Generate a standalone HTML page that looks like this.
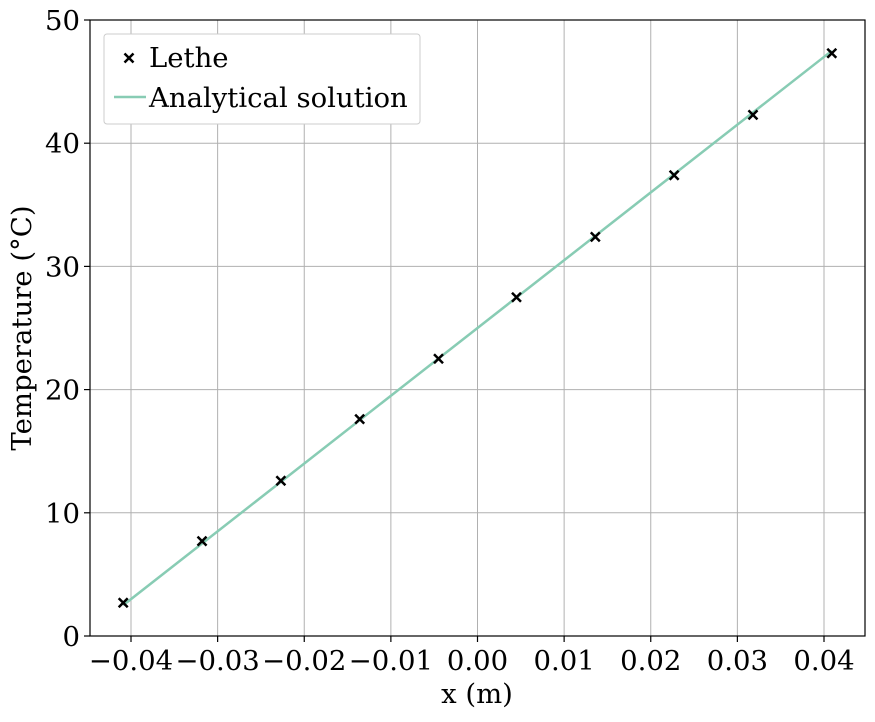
<!DOCTYPE html>
<html><head><meta charset="utf-8"><style>
body{margin:0;background:#fff}
svg text{font-family:"DejaVu Serif","Liberation Serif",serif;fill:#000}
</style></head><body>
<svg id="chart" width="875" height="717"></svg>
<script>
const xTicks=[-0.04,-0.03,-0.02,-0.01,0.00,0.01,0.02,0.03,0.04];
const xTickLabels=["\u22120.04","\u22120.03","\u22120.02","\u22120.01","0.00","0.01","0.02","0.03","0.04"];
const yTicks=[0,10,20,30,40,50];
const letheX=[-0.0409,-0.0318,-0.0227,-0.0136,-0.0045,0.0045,0.0136,0.0227,0.0318,0.0409];
const letheT=[2.7,7.7,12.6,17.6,22.5,27.5,32.4,37.4,42.3,47.3];
const analyticX=[-0.0409,0.0409];
const analyticT=[2.5,47.5];
const L=90,R=865,T=20,B=636;
const sx=v=>477.5+v*8662.5;
const sy=v=>B-(v/50)*(B-T);
const svg=document.getElementById('chart');
const NS='http://www.w3.org/2000/svg';
function mk(tag,attrs,parent){const e=document.createElementNS(NS,tag);for(const k in attrs)e.setAttribute(k,attrs[k]);(parent||svg).appendChild(e);return e;}
xTicks.forEach((v,i)=>{
 const g=mk('line',{x1:sx(v),x2:sx(v),y1:T,y2:B,stroke:'#b0b0b0','stroke-width':1});
 
 
 mk('line',{x1:sx(v),x2:sx(v),y1:B,y2:B+6,stroke:'#000','stroke-width':1.2});
 const t=mk('text',{x:sx(v),y:B+34,'text-anchor':'middle','font-size':27.5});
 t.textContent=xTickLabels[i];
 
 
});
yTicks.forEach(v=>{
 const g=mk('line',{x1:L,x2:R,y1:sy(v),y2:sy(v),stroke:'#b0b0b0','stroke-width':1});
 
 
 mk('line',{x1:L-6,x2:L,y1:sy(v),y2:sy(v),stroke:'#000','stroke-width':1.2});
 const t=mk('text',{x:L-10,y:sy(v)+10,'text-anchor':'end','font-size':27.5});
 t.textContent=v;
 
 
});
const fr=mk('rect',{x:L,y:T,width:R-L,height:B-T,fill:'none',stroke:'#000','stroke-width':1.2});


const ln=mk('polyline',{points:analyticX.map((x,i)=>sx(x)+','+sy(analyticT[i])).join(' '),fill:'none',stroke:'#88ccb4','stroke-width':2.5});


letheX.forEach((x,i)=>{
 const cx=sx(x),cy=sy(letheT[i]),d=4.5;
 const p=mk('path',{d:`M${cx-d},${cy-d}L${cx+d},${cy+d}M${cx-d},${cy+d}L${cx+d},${cy-d}`,stroke:'#000','stroke-width':2.5});
 
 
});
const xl=mk('text',{x:477,y:703,'text-anchor':'middle','font-size':27.5});xl.textContent='x (m)';


const yl=mk('text',{x:31,y:328,'text-anchor':'middle','font-size':27.5,transform:'rotate(-90 31 328)'});yl.textContent='Temperature (°C)';


const lg=mk('g',{});


mk('rect',{x:104,y:34,width:316,height:90,fill:'#fff',stroke:'#ccc','stroke-width':1,rx:3},lg);
mk('path',{d:'M124.5,53.5L133.5,62.5M124.5,62.5L133.5,53.5',stroke:'#000','stroke-width':2.5},lg);
const t1=mk('text',{x:149,y:67,'font-size':27.5},lg);t1.textContent='Lethe';


mk('line',{x1:114,x2:146,y1:97,y2:97,stroke:'#88ccb4','stroke-width':2.5},lg);
const t2=mk('text',{x:149,y:107,'font-size':27.5},lg);t2.textContent='Analytical solution';


</script>
</body></html>
